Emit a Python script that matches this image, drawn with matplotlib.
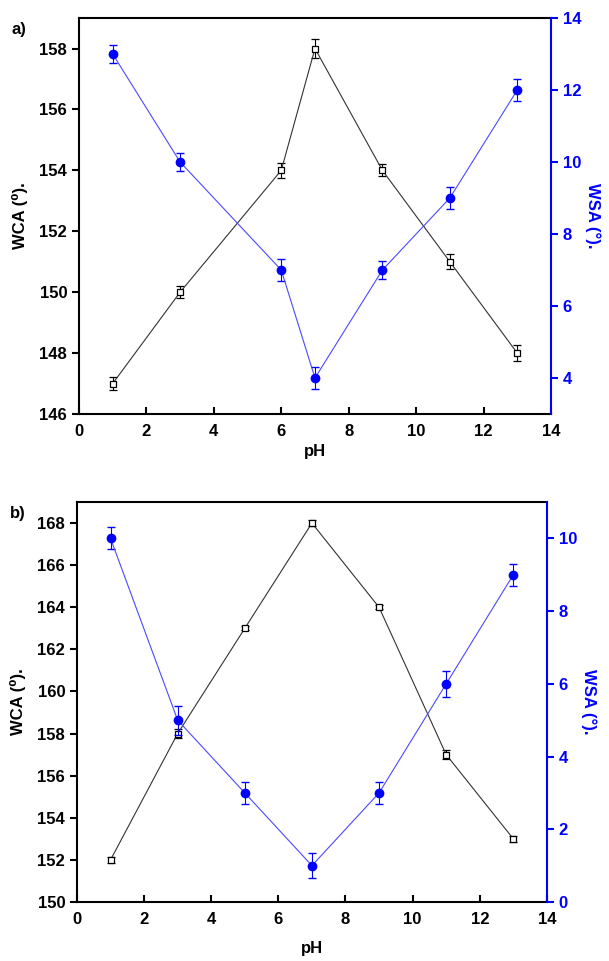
import matplotlib
matplotlib.use("Agg")
import matplotlib.pyplot as plt

plt.rcParams['font.family'] = ['Liberation Sans', 'DejaVu Sans']
plt.rcParams['font.weight'] = 'bold'

# panel a
ph_a = [1, 3, 6, 7, 9, 11, 13]
wca_a = [147, 150, 154, 158, 154, 151, 148]
wca_a_err = [0.2, 0.2, 0.25, 0.3, 0.2, 0.25, 0.25]
wsa_a = [13, 10, 7, 4, 7, 9, 12]
wsa_a_err = [0.25, 0.25, 0.3, 0.3, 0.25, 0.3, 0.3]

# panel b
ph_b = [1, 3, 5, 7, 9, 11, 13]
wca_b = [152, 158, 163, 168, 164, 157, 153]
wca_b_err = [0.15, 0.2, 0.1, 0.15, 0.1, 0.2, 0.15]
wsa_b = [10, 5, 3, 1, 3, 6, 9]
wsa_b_err = [0.3, 0.4, 0.3, 0.35, 0.3, 0.35, 0.3]

BLUE = '#0000ff'


def panel(fig, rect, ph, wca, wca_err, wsa, wsa_err, ylim1, yticks1, ylim2, yticks2, tag, xpad):
    ax = fig.add_axes(rect)
    ax.errorbar(ph, wca, yerr=wca_err, color='#333333', lw=0.8, marker='s', ms=5,
                mfc='white', mec='black', mew=0.9, capsize=3, elinewidth=0.8, ecolor='black')
    ax.set_xlim(0, 14)
    ax.set_xticks(range(0, 15, 2))
    ax.set_ylim(*ylim1)
    ax.set_yticks(yticks1)
    ax.tick_params(axis='x', direction='in', length=5, width=1.5, labelsize=12, pad=7)
    ax.tick_params(axis='y', direction='out', length=5, width=1.5, labelsize=12)
    for s in ['left', 'bottom', 'top']:
        ax.spines[s].set_linewidth(1.5)
    ax.spines['right'].set_visible(False)
    ax.set_xlabel('pH', fontsize=12, fontweight='bold', labelpad=xpad)
    ax.set_ylabel('WCA (\u2070).', fontsize=12, fontweight='bold', labelpad=8)

    ax2 = ax.twinx()
    ax2.errorbar(ph, wsa, yerr=wsa_err, color='#4a4aff', lw=0.8, marker='o', ms=6,
                 mfc=BLUE, mec=BLUE, capsize=3, elinewidth=0.8, ecolor=BLUE)
    ax2.set_ylim(*ylim2)
    ax2.set_yticks(yticks2)
    ax2.tick_params(axis='y', direction='out', length=5, width=1.5, labelsize=12,
                    colors=BLUE)
    for s in ['left', 'bottom', 'top']:
        ax2.spines[s].set_visible(False)
    ax2.spines['right'].set_color(BLUE)
    ax2.spines['right'].set_linewidth(1.5)
    ax2.set_ylabel('WSA (\u00b0).', fontsize=12, fontweight='bold', color=BLUE,
                   rotation=270, labelpad=14)
    fig.text(rect[0] - 0.11, rect[1] + rect[3] - 0.012, tag, fontsize=12,
             fontweight='bold', ha='left', va='center')


fig = plt.figure(figsize=(6.09, 9.61), dpi=100)
panel(fig, [0.1297, 0.5692, 0.775, 0.412], ph_a, wca_a, wca_a_err, wsa_a, wsa_a_err,
      (146, 159), range(146, 159, 2), (3, 14), range(4, 15, 2), 'a)', 4)
panel(fig, [0.1264, 0.0614, 0.7716, 0.4162], ph_b, wca_b, wca_b_err, wsa_b, wsa_b_err,
      (150, 169), range(150, 169, 2), (0, 11), range(0, 11, 2), 'b)', 10)
fig.savefig('out.png', dpi=100)
